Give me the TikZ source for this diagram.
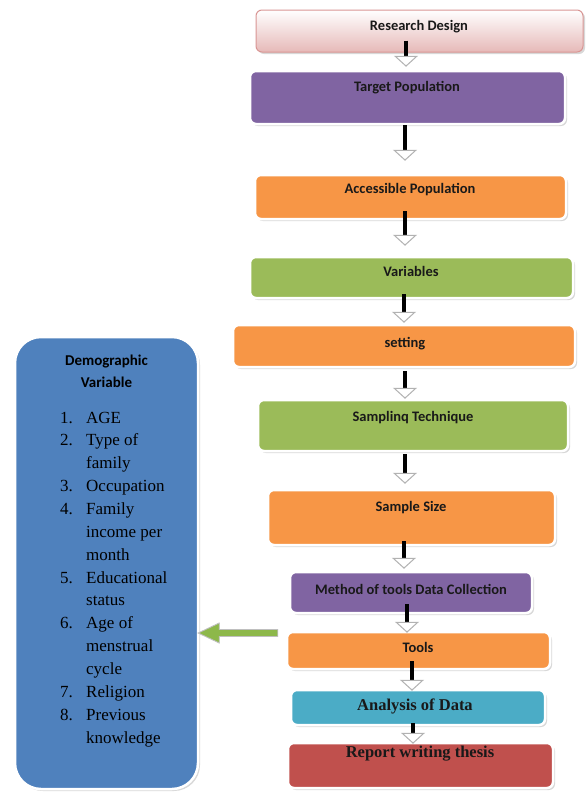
\documentclass[tikz,border=0pt]{standalone}
\usepackage{fontspec}
\setmainfont{Liberation Serif}
\newfontfamily\carl{Carlito}
\usetikzlibrary{arrows.meta,shadows,calc}
\definecolor{cpurple}{HTML}{8064A2}
\definecolor{corange}{HTML}{F79646}
\definecolor{cgreen}{HTML}{9BBB59}
\definecolor{cblue}{HTML}{4F81BD}
\definecolor{ccyan}{HTML}{4BACC6}
\definecolor{cred}{HTML}{C0504D}
\definecolor{cpinkA}{HTML}{E6B9B8}
\definecolor{cpinkB}{HTML}{D99694}
\definecolor{carrowgreen}{HTML}{8DB84A}
\tikzset{
  box/.style={rounded corners=6pt, draw=white, line width=2.5pt, inner sep=0pt,
    drop shadow={shadow xshift=2pt, shadow yshift=-2pt, opacity=0.3}},
  lbl/.style={font=\carl\bfseries\fontsize{14.5}{16}\selectfont, inner sep=0pt, text=black!90},
  slbl/.style={font=\bfseries\fontsize{16.5}{18}\selectfont, inner sep=0pt, text=black!90},
  darr/.style={line width=4.5pt, black,
    -{Triangle[width=24pt,length=11pt,color=black!30,fill=white,line width=1pt]}},
  garr/.style={fill=carrowgreen, draw=black!25, line width=0.9pt, line join=miter}
}
\begin{document}
\begin{tikzpicture}[x=1pt,y=-1pt]
\useasboundingbox (0,0) rectangle (586,793);
\fill[white] (0,0) rectangle (586,793);

% left box
\node[box, rounded corners=26pt, fill=cblue, minimum width=183pt, minimum height=452pt] (demo) at (106.5,563) {};
\node[font=\carl\bfseries\fontsize{15}{22}\selectfont, align=center, inner sep=0pt] (demot) at (106.5,371) {Demographic\\Variable};
\node[anchor=base west, inner sep=0pt, font=\fontsize{17}{22.86}\selectfont] (demol) at (60,423)
{\begin{tabular}[t]{@{}p{26pt}@{}l@{}}
1. & AGE\\
2. & Type of\\
   & family\\
3. & Occupation\\
4. & Family\\
   & income per\\
   & month\\
5. & Educational\\
   & status\\
6. & Age of\\
   & menstrual\\
   & cycle\\
7. & Religion\\
8. & Previous\\
   & knowledge
\end{tabular}};

% right column boxes
\node[box, draw=cpinkB, line width=1pt, top color=white, bottom color=cpinkA, minimum width=327pt, minimum height=42pt] (rd) at (419.5,31) {};
\node[box, fill=cpurple, minimum width=315pt, minimum height=53pt] (tp) at (407.5,97.5) {};
\node[box, fill=corange, minimum width=311pt, minimum height=44pt] (ap) at (410.5,197) {};
\node[box, fill=cgreen, minimum width=323pt, minimum height=41pt] (va) at (411.5,277.5) {};
\node[box, fill=corange, minimum width=342pt, minimum height=42pt] (se) at (404,346) {};
\node[box, fill=cgreen, minimum width=310pt, minimum height=51pt] (st) at (413,425.5) {};
\node[box, fill=corange, minimum width=287pt, minimum height=55pt] (ss) at (411.5,517.5) {};
\node[box, fill=cpurple, minimum width=242pt, minimum height=41pt] (md) at (411,592.5) {};
\node[box, fill=corange, minimum width=263pt, minimum height=37pt] (to) at (418.5,650.5) {};
\node[box, fill=ccyan, minimum width=254pt, minimum height=35pt] (an) at (418,707.5) {};
\node[box, fill=cred, minimum width=265pt, minimum height=45pt] (rw) at (420.5,765.5) {};

% labels
\node[lbl] (rdt) at (419,27) {Research Design};
\node[lbl] (tpt) at (407,88) {Target Population};
\node[lbl] (apt) at (410,190) {Accessible Population};
\node[lbl] (vat) at (411,271) {Variables};
\node[lbl] (set) at (405,344) {setting};
\node[lbl] (stt) at (413,418) {Samplinq Technique};
\node[lbl] (sst) at (411,508) {Sample Size};
\node[lbl] (mdt) at (411,589) {Method of tools Data Collection};
\node[lbl] (tot) at (418,647) {Tools};
\node[slbl] (ant) at (415,706) {Analysis of Data};
\node[slbl] (rwt) at (420,754) {Report writing thesis};

% down arrows
\draw[darr] ([xshift=-13.5pt,yshift=12pt]rd.south) -- ([xshift=-1.5pt,yshift=3pt]tp.north);
\draw[darr] ([xshift=-2.5pt,yshift=0pt]tp.south) -- ([xshift=-5.5pt,yshift=13pt]ap.north);
\draw[darr] ([xshift=-5.5pt,yshift=9pt]ap.south) -- ([xshift=-6.5pt,yshift=10pt]va.north);
\draw[darr] ([xshift=-7.5pt,yshift=5pt]va.south) -- ([xshift=0pt,yshift=1pt]se.north);
\draw[darr] ([xshift=1pt,yshift=-3pt]se.south) -- ([xshift=-8pt,yshift=0pt]st.north);
\draw[darr] ([xshift=-8pt,yshift=-2pt]st.south) -- ([xshift=-6.5pt,yshift=5pt]ss.north);
\draw[darr] ([xshift=-7.5pt,yshift=5pt]ss.south) -- ([xshift=-7pt,yshift=2pt]md.north);
\draw[darr] ([xshift=-4pt,yshift=10pt]md.south) -- ([xshift=-11.5pt,yshift=-2pt]to.north);
\draw[darr] ([xshift=-6.5pt,yshift=9pt]to.south) -- ([xshift=-6pt,yshift=-2pt]an.north);
\draw[darr] ([xshift=-5pt,yshift=3pt]an.south) -- ([xshift=-7.5pt,yshift=-2pt]rw.north);

% green block arrow from Tools to the demographic box
\coordinate (gs) at ([xshift=-8pt,yshift=17.5pt]to.west);
\coordinate (ge) at ([xshift=-1pt]gs -| demo.east);
\draw[garr] ($(gs)+(0,-3.5)$) -- ($(ge)+(21,-3.5)$) -- ($(ge)+(21,-10)$) -- (ge)
  -- ($(ge)+(21,10)$) -- ($(ge)+(21,3.5)$) -- ($(gs)+(0,3.5)$) -- cycle;
\end{tikzpicture}
\end{document}
